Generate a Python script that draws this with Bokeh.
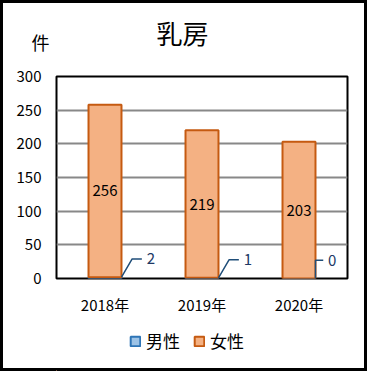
from bokeh.plotting import figure
from bokeh.models import (ColumnDataSource, Legend, LegendItem, FixedTicker,
                          Range1d, Title)
from bokeh.layouts import column
from bokeh.embed import file_html
from bokeh.resources import INLINE

title_text = "乳房"
unit_text = "件"
years = ["2018年", "2019年", "2020年"]
male = [2, 1, 0]
female = [256, 219, 203]
series_names = ["男性", "女性"]
y_ticks = [0, 50, 100, 150, 200, 250, 300]

FONT = "Noto Sans CJK JP"
MALE_FILL, MALE_LINE = "#9DC3E6", "#2E75B6"
FEM_FILL, FEM_LINE = "#F4B183", "#C55A11"
LABEL_BLUE = "#203864"
LEADER = "#1F4E79"

xc = [i + 0.5 for i in range(len(years))]
bw = 0.34
fem_bottom = male[:]
fem_top = [m + f for m, f in zip(male, female)]

W, H1, H2 = 367, 320, 51

p = figure(width=W, height=H1, output_backend="svg", toolbar_location=None,
           x_range=Range1d(0, 3), y_range=Range1d(0, 300),
           min_border_left=56, min_border_right=20, min_border_top=76,
           min_border_bottom=42)
p.border_fill_color = None
p.background_fill_color = "white"
p.outline_line_color = "black"
p.outline_line_width = 2

p.xgrid.visible = False
p.ygrid.grid_line_color = "#888888"
p.ygrid.grid_line_width = 2
p.ygrid.ticker = FixedTicker(ticks=y_ticks)

for ax in (p.xaxis, p.yaxis):
    ax.axis_line_color = None
    ax.major_tick_line_color = None
    ax.minor_tick_line_color = None
    ax.major_tick_out = 0
    ax.major_tick_in = 0
    ax.minor_tick_out = 0
    ax.major_label_text_font = FONT
    ax.major_label_text_font_size = "15px"
    ax.major_label_text_color = "black"

p.yaxis.ticker = FixedTicker(ticks=y_ticks)
p.yaxis.major_label_standoff = 15
p.xaxis.ticker = FixedTicker(ticks=xc)
p.xaxis.major_label_overrides = {x: y for x, y in zip(xc, years)}
p.xaxis.major_label_standoff = 15

src = ColumnDataSource(dict(x=xc, male=male, fem_bottom=fem_bottom, fem_top=fem_top,
                            fem_mid=[(b + t) / 2 for b, t in zip(fem_bottom, fem_top)],
                            fem_lbl=[str(v) for v in female]))

p.vbar(x="x", width=bw, bottom=0, top="male", source=src,
       fill_color=MALE_FILL, line_color=MALE_LINE, line_width=2)
p.vbar(x="x", width=bw, bottom="fem_bottom", top="fem_top", source=src,
       fill_color=FEM_FILL, line_color=FEM_LINE, line_width=2)

p.text(x="x", y="fem_mid", text="fem_lbl", source=src, text_align="center",
       text_baseline="middle", text_font={"value": FONT}, text_font_size="15px",
       text_color="black")

# leader lines for male data labels (offsets in data units)
rise = 27
dx_diag = [0.11, 0.11, 0.0]
dx_flat = [0.10, 0.10, 0.08]
dx_txt = [0.05, 0.05, 0.05]
for i, x in enumerate(xc):
    x0 = x + bw / 2
    x1 = x0 + dx_diag[i]
    x2 = x1 + dx_flat[i]
    p.line([x0, x1, x2], [male[i], male[i] + rise, male[i] + rise],
           line_color=LEADER, line_width=1.5)
    p.text(x=[x2 + dx_txt[i]], y=[male[i] + rise], text=[str(male[i])],
           text_align="left", text_baseline="middle", text_font={"value": FONT},
           text_font_size="15px", text_color=LABEL_BLUE)

p.title.text = title_text
p.title.align = "left"
p.title.offset = 100
p.title.text_font = FONT
p.title.text_font_size = "26px"
p.title.text_font_style = "normal"
p.title.text_color = "black"
p.title.standoff = -93

unit_title = Title(text=unit_text, align="left", offset=-25, text_font=FONT,
                   text_font_size="18px", text_font_style="normal",
                   text_color="black", standoff=44)
p.add_layout(unit_title, "above")

# legend strip (its renderers share the data but sit far outside its visible range)
q = figure(width=W, height=H2, output_backend="svg", toolbar_location=None,
           x_range=Range1d(1000, 1001), y_range=Range1d(1000, 1001),
           x_axis_type=None, y_axis_type=None,
           min_border_left=0, min_border_right=0, min_border_top=0, min_border_bottom=0)
q.border_fill_color = None
q.background_fill_color = None
q.outline_line_color = None
q.grid.visible = False
lm = q.vbar(x="x", top="male", width=bw, source=src,
            fill_color=MALE_FILL, line_color=MALE_LINE, line_width=2)
lf = q.vbar(x="x", bottom="fem_bottom", top="fem_top", width=bw, source=src,
            fill_color=FEM_FILL, line_color=FEM_LINE, line_width=2)
legend = Legend(items=[LegendItem(label=series_names[0], renderers=[lm]),
                       LegendItem(label=series_names[1], renderers=[lf])],
                location=(73, 18), orientation="horizontal",
                glyph_width=12, glyph_height=12, label_standoff=5, spacing=13,
                margin=0, padding=0, border_line_color=None,
                background_fill_color=None,
                label_text_font=FONT, label_text_font_size="17px",
                label_text_color="black")
q.add_layout(legend, "center")

lay = column(p, q, spacing=0)
lay.styles = {"background-color": "white", "box-shadow": "inset 0 0 0 3px black"}

open("out.html", "w").write(file_html(lay, INLINE))
